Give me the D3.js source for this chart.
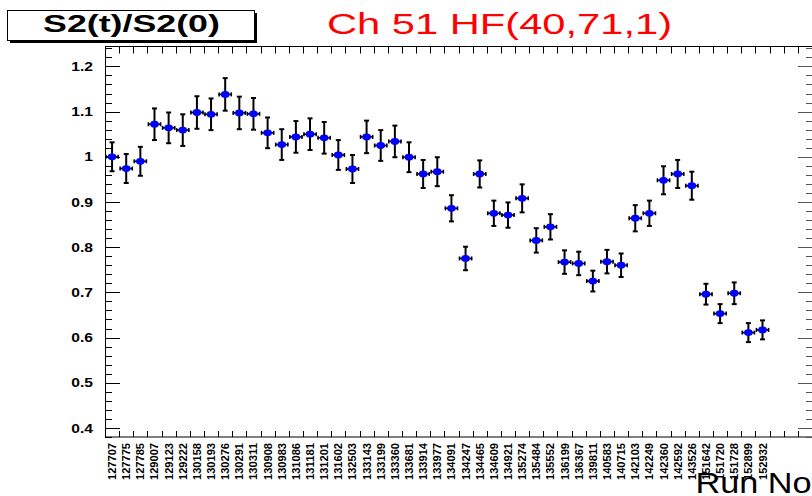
<!DOCTYPE html>
<html>
<head>
<meta charset="utf-8">
<script src="https://cdn.jsdelivr.net/npm/d3@7"></script>
<style>
  body { margin: 0; background: #fff; }
  svg { display: block; font-family: "Liberation Sans", Arial, sans-serif; }
</style>
</head>
<body>
<svg id="chart"></svg>
<script>
// Run numbers (x categories), one per filled bin
const runs = [
  "127707", "127775", "127785", "129007", "129123", "129222", "130158", "130193",
  "130276", "130291", "130311", "130908", "130983", "131086", "131181", "131201",
  "131602", "132503", "133143", "133199", "133360", "133681", "133914", "133977",
  "134091", "134247", "134465", "134609", "134921", "135274", "135484", "135552",
  "136199", "136367", "139811", "140583", "140715", "142103", "142249", "142360",
  "142592", "143526", "151642", "151720", "151728", "152899", "152932"
];

// S2(t)/S2(0) per run
const ratio = [
  1.000, 0.974, 0.990, 1.072, 1.064, 1.059, 1.098, 1.094,
  1.138, 1.097, 1.095, 1.053, 1.027, 1.044, 1.050, 1.042,
  1.004, 0.973, 1.044, 1.025, 1.034, 0.999, 0.962, 0.967,
  0.886, 0.775, 0.962, 0.875, 0.871, 0.908, 0.815, 0.845,
  0.767, 0.764, 0.725, 0.768, 0.760, 0.864, 0.875, 0.948,
  0.962, 0.936, 0.696, 0.653, 0.698, 0.611, 0.617
];

// vertical error (half length)
const ratioErr = [
  0.032, 0.032, 0.032, 0.035, 0.034, 0.035, 0.036, 0.035,
  0.036, 0.036, 0.035, 0.034, 0.034, 0.035, 0.035, 0.035,
  0.033, 0.031, 0.036, 0.034, 0.035, 0.033, 0.031, 0.032,
  0.029, 0.026, 0.030, 0.028, 0.028, 0.031, 0.027, 0.028,
  0.026, 0.026, 0.023, 0.026, 0.026, 0.029, 0.028, 0.031,
  0.031, 0.031, 0.023, 0.021, 0.024, 0.021, 0.021
];

// y axis labels (ROOT style prints "1" not "1.0")
const yTicks = [0.4, 0.5, 0.6, 0.7, 0.8, 0.9, 1.0, 1.1, 1.2];
const nBins = 50;   // histogram has 3 empty bins at the end

const width = 812, height = 496;
const plot = { left: 105, right: 812, top: 46.5, bottom: 437 };

const svg = d3.select("#chart")
  .attr("width", width)
  .attr("height", height);

const x = d3.scaleLinear().domain([0, nBins]).range([plot.left, plot.right]);
const y = d3.scaleLinear().domain([0.38, 1.244]).range([plot.bottom, plot.top]);

// stretch text horizontally (reference fonts are wide)
function stretch(sel, factor) {
  sel.each(function() {
    const len = this.getComputedTextLength();
    d3.select(this)
      .attr("textLength", len * factor)
      .attr("lengthAdjust", "spacingAndGlyphs");
  });
}

// frame
svg.append("rect")
  .attr("x", plot.left + 0.5)
  .attr("y", plot.top)
  .attr("width", plot.right - plot.left)
  .attr("height", plot.bottom - plot.top)
  .attr("fill", "none")
  .attr("stroke", "#000")
  .attr("stroke-width", 1);

// y ticks, major every 0.1 and minor every 0.02 (left and right)
const yMinor = d3.range(0.38, 1.245, 0.02).map(v => +v.toFixed(2));
const tickG = svg.append("g").attr("stroke", "#000").attr("stroke-width", 1);
yMinor.forEach(v => {
  const major = Math.abs(v * 10 - Math.round(v * 10)) < 1e-6;
  const len = major ? 15 : 7;
  const yy = Math.round(y(v)) + 0.5;
  tickG.append("line")
    .attr("x1", plot.left).attr("x2", plot.left + len)
    .attr("y1", yy).attr("y2", yy);
  tickG.append("line")
    .attr("x1", plot.right).attr("x2", plot.right - len + 1)
    .attr("y1", yy).attr("y2", yy)
    .attr("stroke", "#555");
});

// x ticks at each bin edge, bottom and top
d3.range(1, nBins).forEach(i => {
  const xx = Math.round(x(i)) + 0.5;
  tickG.append("line")
    .attr("x1", xx).attr("x2", xx)
    .attr("y1", plot.bottom).attr("y2", plot.bottom - 6);
  tickG.append("line")
    .attr("x1", xx).attr("x2", xx)
    .attr("y1", plot.top).attr("y2", plot.top + 7);
});

// y labels
svg.append("g")
  .selectAll("text")
  .data(yTicks)
  .join("text")
  .attr("x", 93)
  .attr("y", d => y(d))
  .attr("dy", "0.36em")
  .attr("text-anchor", "end")
  .style("font-size", "13px")
  .style("font-weight", "bold")
  .text(d => d === 1 ? "1" : d3.format(".1f")(d))
  .call(stretch, 1.2);

// x labels, vertical
svg.append("g")
  .selectAll("text")
  .data(runs)
  .join("text")
  .attr("transform", (d, i) => `translate(${x(i + 0.5) + 4},443) rotate(-90)`)
  .attr("text-anchor", "end")
  .style("font-size", "10.5px")
  .style("font-weight", "bold")
  .text(d => d)
  .attr("textLength", 37)
  .attr("lengthAdjust", "spacingAndGlyphs");

// data points
const pts = runs.map((r, i) => ({ i, v: ratio[i], e: ratioErr[i] }));
const pg = svg.append("g");

pts.forEach(d => {
  const cx = x(d.i + 0.5);
  const cy = y(d.v);
  const x0 = x(d.i) + 0.5, x1 = x(d.i + 1) - 0.5;
  const yTop = y(d.v + d.e), yBot = y(d.v - d.e);
  const g = pg.append("g").attr("stroke", "#000");
  // horizontal bar with end ticks
  g.append("line").attr("x1", x0).attr("x2", x1).attr("y1", cy).attr("y2", cy).attr("stroke-width", 1.6);
  g.append("line").attr("x1", x0 + 0.5).attr("x2", x0 + 0.5).attr("y1", cy - 2).attr("y2", cy + 2).attr("stroke-width", 1.6);
  g.append("line").attr("x1", x1 - 0.5).attr("x2", x1 - 0.5).attr("y1", cy - 2).attr("y2", cy + 2).attr("stroke-width", 1.6);
  // vertical bar with caps
  g.append("line").attr("x1", cx).attr("x2", cx).attr("y1", yTop).attr("y2", yBot).attr("stroke-width", 2);
  g.append("line").attr("x1", cx - 2.5).attr("x2", cx + 2.5).attr("y1", yTop).attr("y2", yTop).attr("stroke-width", 2);
  g.append("line").attr("x1", cx - 2.5).attr("x2", cx + 2.5).attr("y1", yBot).attr("y2", yBot).attr("stroke-width", 2);
});

pg.selectAll("ellipse")
  .data(pts)
  .join("ellipse")
  .attr("cx", d => x(d.i + 0.5))
  .attr("cy", d => y(d.v))
  .attr("rx", 4.4)
  .attr("ry", 3.4)
  .attr("fill", "#0000ff");

// stat-box style title with shadow
svg.append("rect")
  .attr("x", 10).attr("y", 13).attr("width", 247).attr("height", 30)
  .attr("fill", "#000");
svg.append("rect")
  .attr("x", 7.5).attr("y", 10.5).attr("width", 247).attr("height", 30)
  .attr("fill", "#fff").attr("stroke", "#000").attr("stroke-width", 1);
svg.append("text")
  .attr("x", 131.5).attr("y", 32)
  .attr("text-anchor", "middle")
  .style("font-size", "24px")
  .style("font-weight", "bold")
  .text("S2(t)/S2(0)")
  .call(stretch, 1.49);

svg.append("text")
  .attr("x", 327).attr("y", 34.3)
  .style("font-size", "29px")
  .attr("fill", "#ff0000")
  .text("Ch 51 HF(40,71,1)")
  .attr("textLength", 345)
  .attr("lengthAdjust", "spacingAndGlyphs");

svg.append("text")
  .attr("x", 811.5).attr("y", 493.3)
  .attr("text-anchor", "end")
  .style("font-size", "30px")
  .text("Run No")
  .attr("textLength", 116)
  .attr("lengthAdjust", "spacingAndGlyphs");
</script>
</body>
</html>
